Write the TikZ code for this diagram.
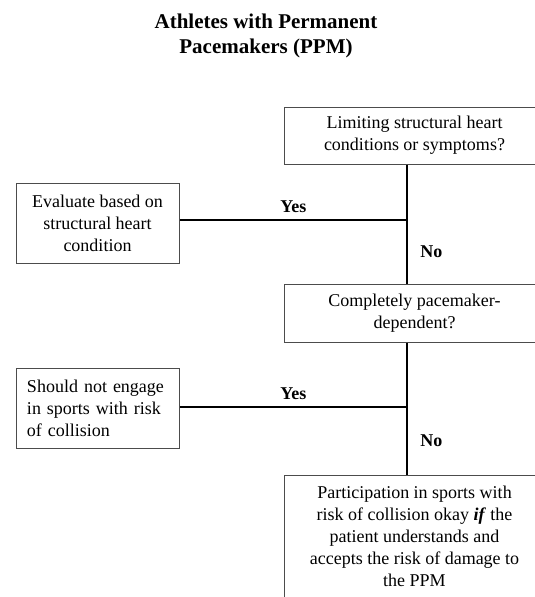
\documentclass[tikz,border=0pt]{standalone}
\usepackage{fontspec}
\setmainfont{Liberation Serif}
\begin{document}
\begin{tikzpicture}[x=1pt,y=-1pt,
  box/.style={draw=black!70,line width=1pt,inner xsep=0pt,inner ysep=0pt,
    font=\fontsize{18}{22}\selectfont},
  conn/.style={line width=2.6pt,line join=miter},
  yeslab/.style={midway,above,inner sep=1pt,yshift=5pt,font=\fontsize{18}{22}\selectfont\bfseries},
  nolab/.style={midway,right,inner sep=0pt,xshift=12pt,font=\fontsize{18}{22}\selectfont\bfseries}]
\useasboundingbox (0,0) rectangle (535,597);
\clip (0,0) rectangle (535,597);
\node[align=center,font=\fontsize{21}{25}\selectfont\bfseries] (title) at (266,35.5)
  {Athletes with Permanent\\Pacemakers (PPM)};
\node[box,minimum width=261pt,minimum height=57pt] (q1) at (414.5,135.5)
  {\parbox{246pt}{\centering Limiting structural heart\\conditions or symptoms?}\hspace{15pt}};
\node[box,minimum width=163pt,minimum height=80pt,align=center] (a1) at (97.5,223)
  {Evaluate based on\\structural heart\\condition};
\node[box,minimum width=261pt,minimum height=58pt] (q2) at (414.5,313)
  {\parbox{246pt}{\centering Completely pacemaker-\\dependent?}\hspace{15pt}};
\node[box,minimum width=163pt,minimum height=80pt,text width=141pt,align=left,inner xsep=11pt] (a2) at (97.5,408)
  {Should not engage\\in sports with risk\\of collision};
\node[box,minimum width=261pt,anchor=north,inner ysep=11pt] (b) at (414.5,475)
  {\parbox{246pt}{\centering Participation in sports with\\risk of collision okay \textbf{\textit{if}} the\\patient understands and\\accepts the risk of damage to\\the PPM}\hspace{15pt}};
\coordinate (j1) at (407,220);
\coordinate (j2) at (407,407);
\draw[conn] (q1.south -| j1) -- (j1) -- node[nolab]{No} (q2.north -| j1);
\draw[conn] (j1) -- node[yeslab]{Yes} (a1.east |- j1);
\draw[conn] (q2.south -| j2) -- (j2) -- node[nolab]{No} (b.north -| j2);
\draw[conn] (j2) -- node[yeslab]{Yes} (a2.east |- j2);
\end{tikzpicture}
\end{document}
